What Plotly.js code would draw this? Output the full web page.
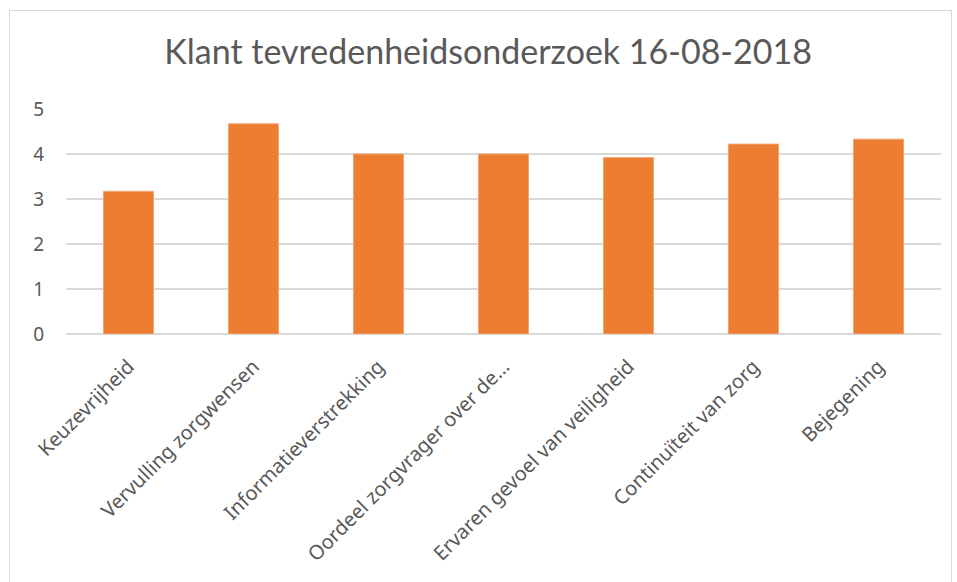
<!DOCTYPE html>
<html>
<head>
<meta charset="utf-8">
<script src="https://cdn.plot.ly/plotly-3.0.1.min.js"></script>
<style>
html,body{margin:0;padding:0;background:#fff;}
#wrap{position:relative;width:957px;height:582px;overflow:hidden;}
#frame{position:absolute;left:9px;top:10px;width:941px;height:600px;border:1px solid #d9d9d9;pointer-events:none;}
#chart{position:absolute;left:0;top:0;width:957px;height:582px;}
</style>
</head>
<body>
<div id="wrap">
<div id="chart"></div>
<div id="frame"></div>
</div>
<script>
const categories = ["Keuzevrijheid","Vervulling zorgwensen","Informatieverstrekking","Oordeel zorgvrager over de…","Ervaren gevoel van veiligheid","Continuïteit van zorg","Bejegening"];
const scores = [3.17, 4.67, 4.0, 4.0, 3.92, 4.22, 4.33];
const yTicks = [0,1,2,3,4,5];
const titleText = "Klant tevredenheidsonderzoek 16-08-2018";

Plotly.newPlot("chart", [{
  type: "bar",
  x: categories,
  y: scores,
  marker: {color: "#ED7D31", line: {color: "#F4A472", width: 1}},
  hoverinfo: "x+y"
}], {
  width: 957, height: 582,
  paper_bgcolor: "rgba(0,0,0,0)", plot_bgcolor: "#fff",
  margin: {l: 66, r: 16, t: 109, b: 248},
  bargap: 0.6,
  showlegend: false,
  title: {text: titleText, x: 0.51, xanchor: "center", y: 0.91, yanchor: "middle",
          font: {family: "Lato, sans-serif", size: 34, color: "#595959"}},
  xaxis: {type: "category", tickangle: -45, showgrid: false, showline: false, zeroline: false,
          ticks: "", ticklabelstandoff: 16,
          tickfont: {family: "Noto Sans", size: 20, color: "#595959"}},
  yaxis: {range: [0, 5], tickvals: yTicks, showgrid: true, gridcolor: "#d9d9d9", gridwidth: 1.5,
          zeroline: true, zerolinecolor: "#d9d9d9", zerolinewidth: 1.5, showline: false, ticks: "",
          ticklabelstandoff: 21,
          tickfont: {family: "Noto Sans", size: 19, color: "#595959"}}
}, {displayModeBar: false, staticPlot: true});
</script>
</body>
</html>
